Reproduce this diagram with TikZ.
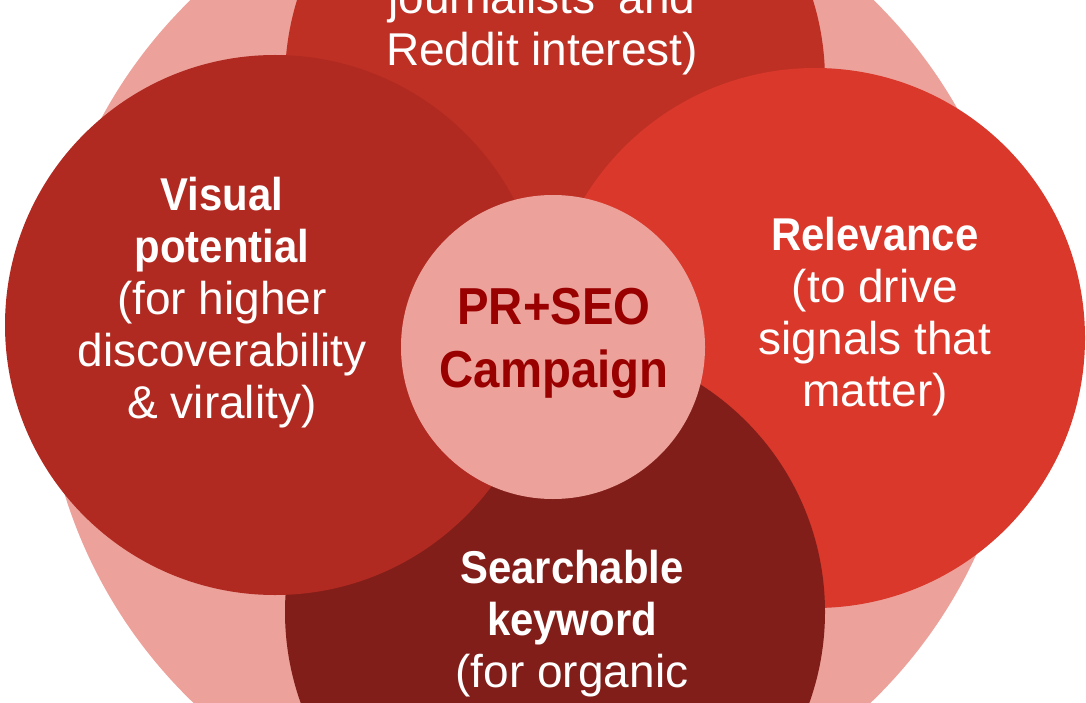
\documentclass[tikz,border=0pt]{standalone}
\usepackage{fontspec}
\setmainfont[BoldFeatures={FakeStretch=0.91}]{Liberation Sans}
\usetikzlibrary{positioning}

\definecolor{halo}{HTML}{ECA29B}
\definecolor{topred}{HTML}{BE3024}
\definecolor{leftred}{HTML}{B02A21}
\definecolor{rightred}{HTML}{D9382B}
\definecolor{lowred}{HTML}{821E19}
\definecolor{hubtext}{HTML}{990000}

\begin{document}
\begin{tikzpicture}[
    x=1pt, y=-1pt,
    font=\fontsize{46}{52}\selectfont,
    disc/.style={circle, inner sep=0pt, minimum size=540pt},
    hubdisc/.style={circle, inner sep=0pt, minimum size=304pt, fill=halo},
    blurb/.style={align=center, text=white, inner sep=0pt},
    hub/.style={align=center, text=hubtext, inner sep=0pt,
      font=\fontsize{52}{63}\selectfont\bfseries}
  ]
    \clip (0,0) rectangle (1086,703);
    \fill[halo] (532,350) circle[radius=489];
    \node[disc, fill=topred] (news) at (555,80) {};
    \node[disc, fill=rightred] (rel) at (815,338) {};
    \node[disc, fill=lowred] (kw) at (555,612) {};
    \node[disc, fill=leftred] (vis) at (275,325) {};
    \node[hubdisc] (camp) at (553,347) {};
    % texts
    \node[blurb] (newstext) at (542,27.5) {journalists' and\\Reddit interest)};
    \node[blurb] (reltext) at (875,316.5) {\textbf{Relevance}\\(to drive\\signals that\\matter)};
    \node[blurb] (kwtext) at (572,623.5) {\textbf{Searchable}\\\textbf{keyword}\\(for organic};
    \node[blurb] (vistext) at (222,303) {\textbf{Visual}\\\textbf{potential}\\(for higher\\discoverability\\\& virality)};
    \node[hub] (camptext) at (554,343.5) {PR+SEO\\Campaign};
  \end{tikzpicture}
\end{document}
